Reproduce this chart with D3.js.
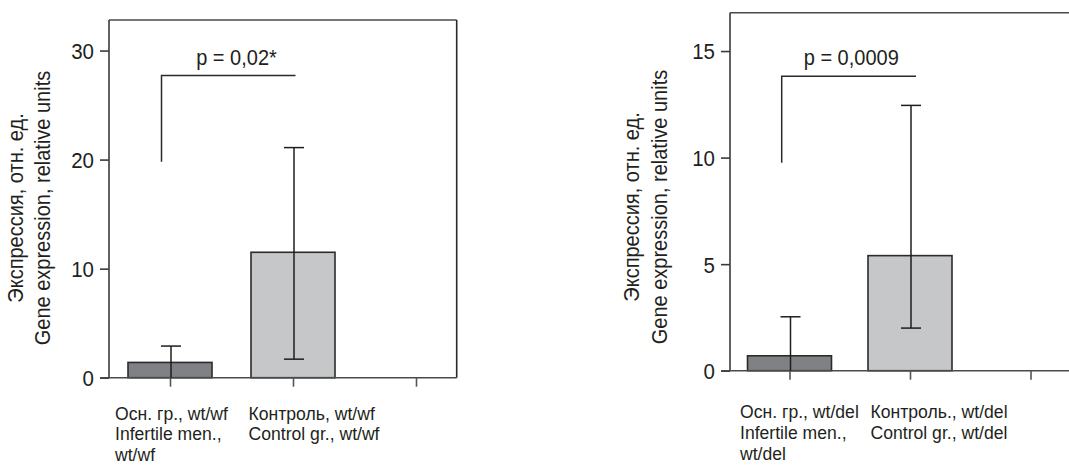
<!DOCTYPE html>
<html>
<head>
<meta charset="utf-8">
<script src="https://cdn.jsdelivr.net/npm/d3@7"></script>
<style>
  html, body { margin: 0; padding: 0; background: #fff; }
  svg { display: block; font-family: "Liberation Sans", Arial, sans-serif; }
</style>
</head>
<body>
<svg id="chart" width="1069" height="467"></svg>
<script>
// ---------- data ----------
const categories = ["g1", "g2", "g3"];

// Panel A (wt/wf)
const labelsA = [
  ["Осн. гр., wt/wf", "Infertile men.,", "wt/wf"],
  ["Контроль, wt/wf", "Control gr., wt/wf"],
  []
];
const meansA = [1.4, 11.5, null];
const errHighA = [2.9, 21.1, null];
const errLowA = [null, 1.7, null];
const ticksA = [0, 10, 20, 30];
const bracketA = [19.8, 27.7];
const pTextA = "p = 0,02*";

// Panel B (wt/del)
const labelsB = [
  ["Осн. гр., wt/del", "Infertile men.,", "wt/del"],
  ["Контроль., wt/del", "Control gr., wt/del"],
  []
];
const meansB = [0.7, 5.4, null];
const errHighB = [2.53, 12.45, null];
const errLowB = [null, 2.0, null];
const ticksB = [0, 5, 10, 15];
const bracketB = [9.76, 13.82];
const pTextB = "p = 0,0009";

const yTitle = ["Экспрессия, отн. ед.", "Gene expression, relative units"];
const barColors = ["#808184", "#c6c7c9"];

// ---------- drawing ----------
const svg = d3.select("#chart");
const STRETCH = 1.07; // reference type is slightly condensed / taller

function drawPanel(cfg) {
  const g = svg.append("g");
  const y = d3.scaleLinear().domain([0, cfg.yMax]).range([cfg.y0, cfg.yTop]);
  const x = d3.scalePoint().domain(categories).range([cfg.xFirst, cfg.xLast]);
  const barW = 84;

  // frame: top line and optional right line
  g.append("line")
    .attr("x1", cfg.xLeft).attr("x2", cfg.xRight)
    .attr("y1", cfg.yTop).attr("y2", cfg.yTop)
    .attr("stroke", "#4a4a4a").attr("stroke-width", 1.6);
  if (cfg.rightBorder) {
    g.append("line")
      .attr("x1", cfg.xRight).attr("x2", cfg.xRight)
      .attr("y1", cfg.yTop).attr("y2", cfg.y0)
      .attr("stroke", "#2a2a2a").attr("stroke-width", 1.6);
  }

  // bars
  categories.forEach((c, i) => {
    if (cfg.means[i] == null) return;
    g.append("rect")
      .attr("x", x(c) - barW / 2)
      .attr("y", y(cfg.means[i]))
      .attr("width", barW)
      .attr("height", y(0) - y(cfg.means[i]))
      .attr("fill", barColors[i])
      .attr("stroke", "#2b2b2b")
      .attr("stroke-width", 1.6);
  });

  // y axis
  const yAxis = d3.axisLeft(y).tickValues(cfg.ticks).tickSize(9).tickPadding(6).tickFormat(d3.format("d"));
  const ya = g.append("g").attr("transform", `translate(${cfg.xLeft},0)`).call(yAxis);
  ya.select(".domain").attr("d", `M0,${cfg.yTop}V${cfg.y0}`).attr("stroke", "#3a3a3a").attr("stroke-width", 1.6);
  ya.selectAll(".tick line").attr("stroke", "#3a3a3a").attr("stroke-width", 1.6);
  ya.selectAll(".tick text").attr("font-size", 20.5).attr("fill", "#231f20")
    .attr("font-family", "'Liberation Sans', Arial, sans-serif")
    .attr("dy", "0.36em")
    .attr("transform", `scale(1,${STRETCH})`)
    .attr("y", 0);
  // keep stretched tick labels centred on their tick
  ya.selectAll(".tick text").each(function () {
    d3.select(this).attr("transform", `translate(0,0) scale(1,${STRETCH})`);
  });

  // x axis
  const xAxis = d3.axisBottom(x).tickSize(9).tickFormat("");
  const xa = g.append("g").attr("transform", `translate(0,${cfg.y0})`).call(xAxis);
  xa.select(".domain").attr("d", `M${cfg.xLeft - 9},0H${cfg.xRight}`).attr("stroke", "#4a4a4a").attr("stroke-width", 1.6);
  xa.selectAll(".tick line").attr("stroke", "#555").attr("stroke-width", 1.6);

  // error bars
  const capW = 20;
  categories.forEach((c, i) => {
    if (cfg.means[i] == null) return;
    const cx = x(c) + 1;
    const hi = cfg.errHigh[i];
    const lo = cfg.errLow[i] == null ? 0 : cfg.errLow[i];
    g.append("line").attr("x1", cx).attr("x2", cx)
      .attr("y1", y(hi)).attr("y2", y(lo))
      .attr("stroke", "#1e1e1e").attr("stroke-width", 1.5);
    g.append("line").attr("x1", cx - capW / 2).attr("x2", cx + capW / 2)
      .attr("y1", y(hi)).attr("y2", y(hi))
      .attr("stroke", "#1e1e1e").attr("stroke-width", 1.5);
    if (cfg.errLow[i] != null) {
      g.append("line").attr("x1", cx - capW / 2).attr("x2", cx + capW / 2)
        .attr("y1", y(lo)).attr("y2", y(lo))
        .attr("stroke", "#1e1e1e").attr("stroke-width", 1.5);
    }
  });

  // helper: text vertically stretched around its baseline point
  function stretchedText(px, py, anchor, size) {
    return g.append("g")
      .attr("transform", `translate(${px},${py}) scale(1,${STRETCH})`)
      .append("text")
      .attr("text-anchor", anchor)
      .attr("font-size", size).attr("fill", "#231f20");
  }

  // significance bracket
  const bx1 = x(categories[0]) + cfg.bracketL;
  const bx2 = x(categories[1]) + cfg.bracketR;
  g.append("path")
    .attr("d", `M${bx1},${y(cfg.bracket[0])}V${y(cfg.bracket[1])}H${bx2}`)
    .attr("fill", "none").attr("stroke", "#2a2a2a").attr("stroke-width", 1.5);
  stretchedText((x(categories[0]) + x(categories[1])) / 2 + cfg.pShift,
                y(cfg.bracket[1]) - 11, "middle", 20)
    .text(cfg.pText);

  // category labels
  categories.forEach((c, i) => {
    const t = stretchedText(x(c) + cfg.labelDx[i], cfg.labelY, "start", 17.6);
    cfg.labels[i].forEach((line, k) => {
      t.append("tspan").attr("x", 0).attr("y", k * 21 / STRETCH).text(line);
    });
  });

  // y axis title (two rotated lines)
  const ty = g.append("g")
    .attr("transform", `translate(${cfg.titleX},${cfg.titleY}) rotate(-90) scale(1,${STRETCH})`)
    .append("text")
    .attr("text-anchor", "middle").attr("font-size", 20).attr("fill", "#231f20");
  yTitle.forEach((line, k) => {
    ty.append("tspan").attr("x", 0).attr("y", k * 28 / STRETCH).text(line);
  });
}

drawPanel({
  means: meansA, errHigh: errHighA, errLow: errLowA, ticks: ticksA,
  bracket: bracketA, pText: pTextA, labels: labelsA,
  yMax: 32.8, y0: 377.7, yTop: 20,
  xLeft: 109, xRight: 456.7, rightBorder: true,
  xFirst: 170, xLast: 416,
  bracketL: -8.5, bracketR: 2.5, pShift: 5,
  labelDx: [-55, -44.5, 0], labelY: 419.5,
  titleX: 22.5, titleY: 208
});

drawPanel({
  means: meansB, errHigh: errHighB, errLow: errLowB, ticks: ticksB,
  bracket: bracketB, pText: pTextB, labels: labelsB,
  yMax: 16.8, y0: 370.7, yTop: 12.7,
  xLeft: 730, xRight: 1070, rightBorder: false,
  xFirst: 789.5, xLast: 1030.5,
  bracketL: -7.8, bracketR: 6, pShift: 1.5,
  labelDx: [-49.5, -39.5, 0], labelY: 418.3,
  titleX: 639, titleY: 207
});
</script>
</body>
</html>
